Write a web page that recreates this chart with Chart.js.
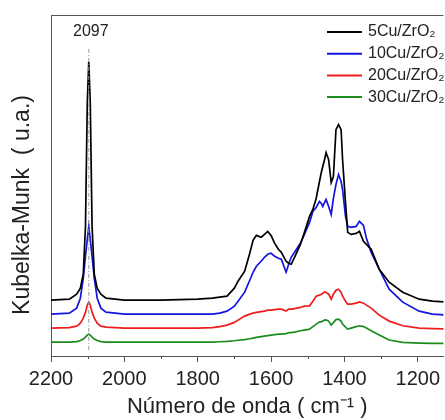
<!DOCTYPE html>
<html>
<head>
<meta charset="utf-8">
<script src="https://cdn.jsdelivr.net/npm/chart.js@4.4.1/dist/chart.umd.min.js"></script>
<style>
  html, body { margin: 0; padding: 0; background: #fff; overflow: hidden; }
</style>
</head>
<body>
<canvas id="kmChart" width="445" height="420"></canvas>
<script>
// Número de onda (cm-1), comum a todas as amostras
const numeroOnda = [2200, 2150, 2130, 2120, 2112, 2106, 2101, 2097, 2093, 2088,
    2082, 2074, 2064, 2050, 2000, 1900, 1800,
    1760, 1740, 1720, 1700, 1690, 1672, 1658, 1649, 1640, 1627,
    1618, 1609, 1600, 1590, 1580, 1572, 1559, 1552, 1545, 1536,
    1520, 1509, 1495, 1486, 1477, 1468, 1463, 1459, 1454, 1450,
    1443, 1436, 1430, 1423, 1416, 1409, 1405, 1397, 1391, 1382,
    1368, 1359, 1348, 1340, 1327, 1305, 1278, 1241, 1196, 1160,
    1120];

// Intensidades (u.a.), já com o deslocamento vertical de cada curva
const cu5 = [56, 57, 62, 68, 82, 130, 255, 295, 255, 130,
    82, 68, 62, 58, 56, 56, 57,
    58, 59, 60, 68, 75, 85, 103, 116, 121, 119,
    122, 125, 121, 113, 107, 104, 95, 93, 92, 99,
    112, 124, 140, 147, 158, 175, 184, 190, 197, 204,
    197, 174, 180, 227, 232, 227, 197, 154, 124, 122,
    123, 125, 115, 112, 107, 87, 74, 64, 57, 55,
    54];
const cu10 = [42, 43, 48, 58, 78, 100, 117, 130, 117, 100,
    78, 58, 48, 44, 42, 42, 42,
    42, 43, 45, 50, 55, 64, 76, 84, 90, 95,
    99, 102, 103, 100, 98, 97, 84, 92, 99, 104,
    113, 122, 134, 145, 149, 155, 153, 150, 154, 157,
    150, 142, 158, 172, 182, 175, 167, 140, 130, 129,
    130, 135, 131, 118, 104, 87, 67, 54, 45, 42,
    41];
const cu20 = [28, 28.5, 30, 33, 38, 44, 51, 54, 51, 44,
    38, 33, 30, 29, 28, 28, 28,
    28.5, 29.5, 31, 33.7, 36, 40, 42, 43, 43.7, 44.5,
    45, 46, 46, 46.5, 47, 47, 45, 47, 47, 47.5,
    48.7, 50, 50.3, 55, 60, 61, 62, 63, 64.3, 63.7,
    62, 57, 62, 66, 67, 64, 60, 55, 52, 52,
    53, 54.3, 53, 51, 48, 41, 35, 30.3, 28, 27.5,
    27];
const cu30 = [14, 14, 14.5, 15.5, 17, 19, 21, 22, 21, 19,
    17, 15.5, 14.5, 14, 14, 14, 14,
    14, 14.3, 14.7, 15.3, 15.8, 16.5, 17.3, 18, 18.7, 19.5,
    20, 20.5, 21, 21.5, 22, 22, 22.5, 23.5, 23.5, 24,
    25.3, 26, 27, 29.5, 32, 34, 34.5, 35, 36, 36.3,
    35, 31, 33.5, 36.5, 37, 35, 32, 29, 27, 28,
    29.5, 30.3, 29.5, 28, 25.3, 21, 16, 13.7, 13, 12.7,
    12.7];

const etiquetas = ['5Cu/ZrO₂', '10Cu/ZrO₂', '20Cu/ZrO₂', '30Cu/ZrO₂'];
const cores = ['#000000', '#1414e0', '#ee1c1c', '#1c8c1c'];
const ticksX = [2200, 2000, 1800, 1600, 1400, 1200];
const ticksMenores = [2100, 1900, 1700, 1500, 1300];
const picoCO = 2097;

const fonte = "'Liberation Sans', Arial, sans-serif";
const corEixo = '#555555';

const series = [cu5, cu10, cu20, cu30];

// moldura, ticks menores, título do eixo y, linha tracejada do pico e legenda
const extras = {
    id: 'extras',
    afterDatasetsDraw(chart) {
        const { ctx, chartArea, scales } = chart;
        const x = scales.x, y = scales.y;
        ctx.save();
        // linha tracejada em 2097
        const px = x.getPixelForValue(picoCO);
        ctx.strokeStyle = '#9a9a9a';
        ctx.lineWidth = 1;
        ctx.setLineDash([4, 2, 1, 2]);
        ctx.beginPath();
        ctx.moveTo(px, y.getPixelForValue(308));
        ctx.lineTo(px, y.getPixelForValue(4));
        ctx.stroke();
        ctx.setLineDash([]);

        ctx.fillStyle = '#222';
        ctx.font = '16px ' + fonte;
        ctx.textAlign = 'center';
        ctx.textBaseline = 'middle';
        ctx.fillText(String(picoCO), px + 2, 32);

        // moldura superior
        ctx.strokeStyle = corEixo;
        ctx.beginPath();
        ctx.moveTo(chartArea.left, chartArea.top + 0.5);
        ctx.lineTo(chartArea.right, chartArea.top + 0.5);
        ctx.stroke();

        // ticks menores
        ticksMenores.forEach(v => {
            const tx = Math.round(x.getPixelForValue(v)) + 0.5;
            ctx.beginPath();
            ctx.moveTo(tx, chartArea.bottom);
            ctx.lineTo(tx, chartArea.bottom + 3);
            ctx.stroke();
        });

        // título do eixo y
        ctx.save();
        ctx.translate(23, 205);
        ctx.rotate(-Math.PI / 2);
        ctx.font = '23px ' + fonte;
        ctx.fillStyle = '#222';
        ctx.textAlign = 'center';
        ctx.fillText('Kubelka-Munk  ( u.a.)', 0, 0);
        ctx.restore();

        // legenda
        ctx.textAlign = 'left';
        ctx.font = '16px ' + fonte;
        chart.data.datasets.forEach((ds, i) => {
            const ly = 32 + i * 21.7;
            ctx.strokeStyle = ds.borderColor;
            ctx.lineWidth = 2;
            ctx.beginPath();
            ctx.moveTo(327, ly);
            ctx.lineTo(362, ly);
            ctx.stroke();
            ctx.fillStyle = '#222';
            ctx.fillText(ds.label, 368, ly);
        });
        ctx.restore();
    }
};

new Chart(document.getElementById('kmChart'), {
    type: 'line',
    data: {
        datasets: series.map((s, i) => ({
            label: etiquetas[i],
            data: numeroOnda.map((w, j) => ({ x: w, y: s[j] })),
            borderColor: cores[i],
            borderWidth: 1.7,
            pointRadius: 0,
            tension: 0,
            fill: false
        }))
    },
    options: {
        responsive: false,
        animation: false,
        layout: {
            padding: { top: 15, right: 0, left: 0, bottom: 0 }
        },
        scales: {
            x: {
                type: 'linear',
                reverse: true,
                min: 1130,
                max: 2200,
                afterFit: scale => { scale.height = 64; },
                afterBuildTicks: scale => {
                    scale.ticks = ticksX.map(v => ({ value: v }));
                },
                grid: {
                    drawOnChartArea: false,
                    tickLength: 6,
                    tickColor: corEixo
                },
                border: { display: true, color: corEixo },
                ticks: {
                    autoSkip: false,
                    maxRotation: 0,
                    padding: 5,
                    color: '#222',
                    font: { size: 20, family: fonte },
                    callback: v => String(v)
                },
                title: {
                    display: true,
                    text: 'Número de onda ( cm⁻¹ )',
                    color: '#222',
                    font: { size: 22, family: fonte },
                    padding: { top: 0, bottom: 0 }
                }
            },
            y: {
                min: 0,
                max: 342,
                afterFit: scale => { scale.width = 51; },
                grid: { display: false },
                border: { display: true, color: corEixo },
                ticks: { display: false }
            }
        },
        plugins: {
            legend: { display: false },
            tooltip: { enabled: false }
        }
    },
    plugins: [extras]
});
</script>
</body>
</html>
